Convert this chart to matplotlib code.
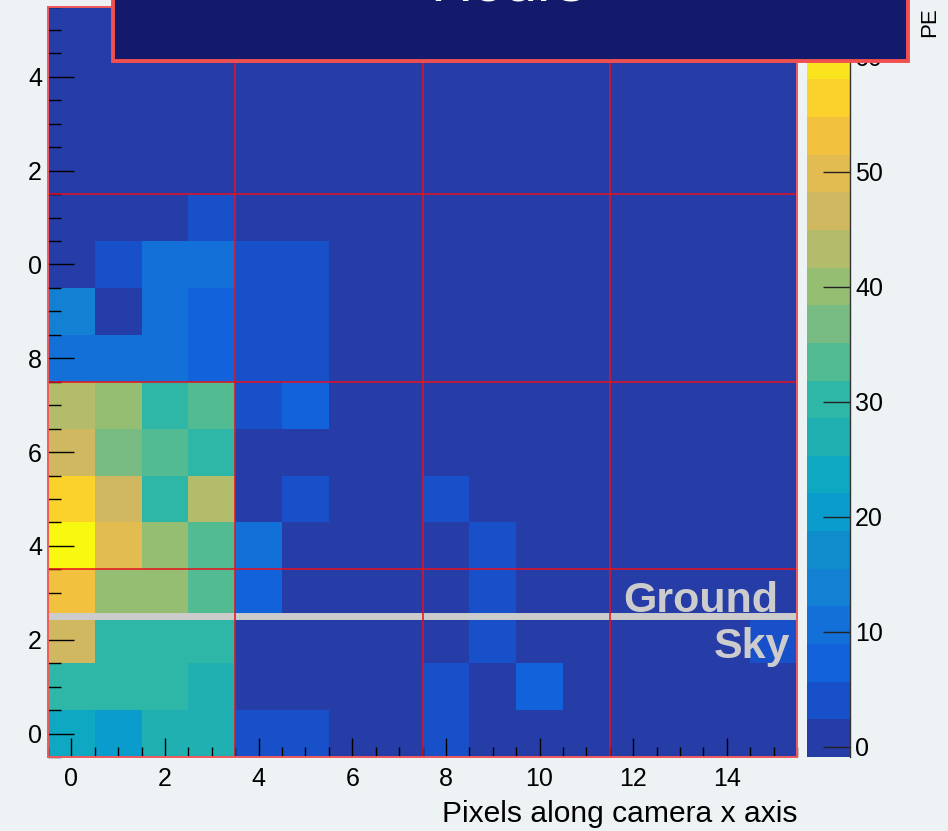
import numpy as np
import matplotlib
matplotlib.use("Agg")
import matplotlib.pyplot as plt
from matplotlib.colors import ListedColormap, BoundaryNorm
from matplotlib.patches import Rectangle
from matplotlib.ticker import MultipleLocator, FixedLocator, FixedFormatter

plt.rcParams['font.family'] = ['Liberation Sans', 'DejaVu Sans']

# ---------------- data ----------------
x_pixels = np.arange(16)
y_pixels = np.arange(16)
# PE per pixel, one list per camera row (row 0 at the bottom)
pe_row_00 = [23.7, 20.4, 26.9, 26.9, 4.0, 4.0, 0.5, 0.5, 4.0, 0.5, 0.5, 0.5, 0.5, 0.5, 0.5, 0.5]
pe_row_01 = [30.2, 30.2, 30.2, 26.9, 0.5, 0.5, 0.5, 0.5, 4.0, 0.5, 7.3, 0.5, 0.5, 0.5, 0.5, 0.5]
pe_row_02 = [46.6, 30.2, 30.2, 30.2, 0.5, 0.5, 0.5, 0.5, 0.5, 4.0, 0.5, 0.5, 0.5, 0.5, 0.5, 4.0]
pe_row_03 = [53.1, 40.0, 40.0, 33.5, 7.3, 0.5, 0.5, 0.5, 0.5, 4.0, 0.5, 0.5, 0.5, 0.5, 0.5, 0.5]
pe_row_04 = [64.6, 49.8, 40.0, 33.5, 10.6, 0.5, 0.5, 0.5, 0.5, 4.0, 0.5, 0.5, 0.5, 0.5, 0.5, 0.5]
pe_row_05 = [56.4, 46.6, 30.2, 43.3, 0.5, 4.0, 0.5, 0.5, 4.0, 0.5, 0.5, 0.5, 0.5, 0.5, 0.5, 0.5]
pe_row_06 = [46.6, 36.8, 33.5, 30.2, 0.5, 0.5, 0.5, 0.5, 0.5, 0.5, 0.5, 0.5, 0.5, 0.5, 0.5, 0.5]
pe_row_07 = [43.3, 40.0, 30.2, 33.5, 4.0, 7.3, 0.5, 0.5, 0.5, 0.5, 0.5, 0.5, 0.5, 0.5, 0.5, 0.5]
pe_row_08 = [10.6, 10.6, 10.6, 7.3, 4.0, 4.0, 0.5, 0.5, 0.5, 0.5, 0.5, 0.5, 0.5, 0.5, 0.5, 0.5]
pe_row_09 = [13.8, 0.5, 10.6, 7.3, 4.0, 4.0, 0.5, 0.5, 0.5, 0.5, 0.5, 0.5, 0.5, 0.5, 0.5, 0.5]
pe_row_10 = [0.5, 4.0, 10.6, 10.6, 4.0, 4.0, 0.5, 0.5, 0.5, 0.5, 0.5, 0.5, 0.5, 0.5, 0.5, 0.5]
pe_row_11 = [0.5, 0.5, 0.5, 4.0, 0.5, 0.5, 0.5, 0.5, 0.5, 0.5, 0.5, 0.5, 0.5, 0.5, 0.5, 0.5]
pe_row_12 = [0.5, 0.5, 0.5, 0.5, 0.5, 0.5, 0.5, 0.5, 0.5, 0.5, 0.5, 0.5, 0.5, 0.5, 0.5, 0.5]
pe_row_13 = [0.5, 0.5, 0.5, 0.5, 0.5, 0.5, 0.5, 0.5, 0.5, 0.5, 0.5, 0.5, 0.5, 0.5, 0.5, 0.5]
pe_row_14 = [0.5, 0.5, 0.5, 0.5, 0.5, 0.5, 0.5, 0.5, 0.5, 0.5, 0.5, 0.5, 0.5, 0.5, 0.5, 0.5]
pe_row_15 = [0.5, 0.5, 0.5, 0.5, 0.5, 0.5, 0.5, 0.5, 0.5, 0.5, 0.5, 0.5, 0.5, 0.5, 0.5, -0.87]

y_tick_values = [0, 2, 4, 6, 8, 10, 12, 14]
y_tick_labels = ["0", "2", "4", "6", "8", "0", "2", "4"]
x_tick_values = [0, 2, 4, 6, 8, 10, 12, 14]
x_tick_labels = ["0", "2", "4", "6", "8", "10", "12", "14"]
z_tick_values = [0, 10, 20, 30, 40, 50, 60]
module_edges = [3.5, 7.5, 11.5]
horizon_y = 2.5

title_text = "Hours"
x_title = "Pixels along camera x axis"
z_title = "PE"

pe = np.array([pe_row_00, pe_row_01, pe_row_02, pe_row_03, pe_row_04, pe_row_05,
               pe_row_06, pe_row_07, pe_row_08, pe_row_09, pe_row_10, pe_row_11,
               pe_row_12, pe_row_13, pe_row_14, pe_row_15])

# ---------------- style ----------------
palette = ['#263ca6', '#1750c8', '#1262dc', '#1270d8', '#1480d4', '#0e8ccc',
           '#0a9ccc', '#0ea8c2', '#20b0b2', '#2eb6a6', '#52bb92', '#78bc84',
           '#96be72', '#b3bc6a', '#d0b860', '#e2bc50', '#f2c23e', '#fbd22c',
           '#f9e41e', '#f8f810']
cmap = ListedColormap(palette)
levels = np.linspace(pe.min(), pe.max(), len(palette) + 1)
norm = BoundaryNorm(levels, len(palette))

W, H = 948, 831
bg = '#edf2f5'
fig = plt.figure(figsize=(W / 100, H / 100), dpi=100, facecolor=bg)

def fx(px):
    return px / W

def fy(py):
    return (H - py) / H

ax = fig.add_axes([fx(48), fy(757), fx(797) - fx(48), fy(6.5) - fy(757)])
xe = np.append(x_pixels - 0.5, x_pixels[-1] + 0.5)
ye = np.append(y_pixels - 0.5, y_pixels[-1] + 0.5)
mesh = ax.pcolormesh(xe, ye, pe, cmap=cmap, norm=norm, shading='flat',
                     antialiased=False)
ax.set_xlim(xe[0], xe[-1])
ax.set_ylim(ye[0], ye[-1])

ax.axhline(horizon_y, color='#cccccc', lw=5.0, zorder=3)
for v in module_edges:
    ax.axvline(v, color='#e8101e', lw=1.1, zorder=4)
    ax.axhline(v, color='#e8101e', lw=1.1, zorder=4)

ax.text(15.1, 2.6, "Ground", color='#cccccc', fontsize=31, fontweight='bold',
        ha='right', va='baseline', zorder=5)
ax.text(15.36, 1.6, "Sky", color='#cccccc', fontsize=31, fontweight='bold',
        ha='right', va='baseline', zorder=5)

for s in ax.spines.values():
    s.set_color('#f05a5a')
    s.set_linewidth(1.4)
    s.set_zorder(7)

ax.xaxis.set_major_locator(FixedLocator(x_tick_values))
ax.xaxis.set_major_formatter(FixedFormatter(x_tick_labels))
ax.yaxis.set_major_locator(FixedLocator(y_tick_values))
ax.yaxis.set_major_formatter(FixedFormatter(y_tick_labels))
ax.xaxis.set_minor_locator(MultipleLocator(0.5))
ax.yaxis.set_minor_locator(MultipleLocator(0.5))
ax.tick_params(axis='x', which='major', direction='in', length=13.7, width=1.0,
               color='black', labelsize=18, pad=7, top=False)
ax.tick_params(axis='x', which='minor', direction='in', length=7.2, width=1.0,
               color='black', top=False)
ax.tick_params(axis='y', which='major', direction='in', length=18.7, width=1.0,
               color='black', labelsize=18, pad=4.3, right=False)
ax.tick_params(axis='y', which='minor', direction='in', length=9.4, width=1.0,
               color='black', right=False)
ax.set_axisbelow(False)
for t in ax.xaxis.get_major_ticks() + ax.xaxis.get_minor_ticks() + \
         ax.yaxis.get_major_ticks() + ax.yaxis.get_minor_ticks():
    t.tick1line.set_zorder(6)

fig.text(fx(797), fy(822), x_title, fontsize=21.6, ha='right', va='baseline')

# colour bar
cax = fig.add_axes([fx(807), fy(757), fx(850) - fx(807), fy(4) - fy(757)])
cb = fig.colorbar(mesh, cax=cax, spacing='proportional')
cb.outline.set_visible(False)
cax.set_facecolor(bg)
cb.set_ticks(z_tick_values)
cax.yaxis.set_ticks_position('right')
cax.tick_params(axis='y', which='major', direction='in', length=19.4, width=1.0,
                color='#222222', labelsize=18, pad=3.6)
cax.minorticks_off()
cax.axvline(1.0, color='#333333', lw=1.0, clip_on=False)

fig.text(fx(930), fy(7), z_title, fontsize=16, rotation=90, ha='center', va='top')

# title box
box = Rectangle((fx(113), fy(61)), fx(908) - fx(113), 0.2,
                transform=fig.transFigure, facecolor='#131a6b',
                edgecolor='#f05050', lw=2.8, zorder=20)
fig.add_artist(box)
fig.text(fx(508), fy(12.5), title_text, fontsize=42, color='white',
         ha='center', va='bottom', zorder=21)

fig.savefig('out.png', dpi=100, facecolor=bg)
